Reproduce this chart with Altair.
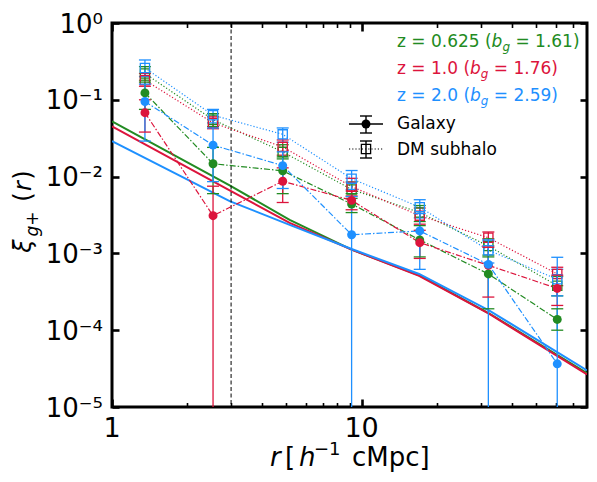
import altair as alt
import pandas as pd

# separation bins, h^-1 cMpc
r_bins = [1.355, 2.54, 4.83, 9.12, 17.1, 32.2, 60.8]
r_cut = [3.0]

z_names = ["0.625", "1.0", "2.0"]
z_bias = ["1.61", "1.76", "2.59"]
z_colors = ["#228B22", "#DC143C", "#1E90FF"]

# galaxy xi_g+ (filled circles); a lower end of 1e-7 means the bar runs off the plot
gal_v_green = [0.123, 0.0147, 0.0119, 4.4e-3, 1.5e-3, 5.4e-4, 1.38e-4]
gal_lo_green = [0.075, 6.0e-3, 6.0e-3, 3.4e-3, 9.0e-4, 1.9e-4, 1.0e-4]
gal_hi_green = [0.17, 0.024, 0.018, 6.0e-3, 2.3e-3, 9.0e-4, 1.9e-4]

gal_v_red = [0.068, 3.1e-3, 8.7e-3, 4.9e-3, 1.38e-3, 7.0e-4, 3.5e-4]
gal_lo_red = [0.038, 1e-7, 4.6e-3, 3.7e-3, 8.6e-4, 2.7e-4, 2.1e-4]
gal_hi_red = [0.10, 7.5e-3, 0.013, 6.5e-3, 2.0e-3, 1.2e-3, 5.2e-4]

gal_v_blue = [0.095, 0.0257, 0.0139, 1.75e-3, 1.96e-3, 7.2e-4, 3.65e-5]
gal_lo_blue = [0.029, 8.6e-3, 7.0e-3, 1e-7, 6.2e-4, 1e-7, 1e-7]
gal_hi_blue = [0.16, 0.043, 0.021, 5.5e-3, 3.3e-3, 1.5e-3, 8.9e-4]

# DM subhalo xi_g+ (open squares)
dm_v_green = [0.22, 0.055, 0.021, 6.8e-3, 3.4e-3, 1.25e-3, 3.8e-4]
dm_lo_green = [0.18, 0.045, 0.017, 5.2e-3, 2.6e-3, 9.5e-4, 2.8e-4]
dm_hi_green = [0.27, 0.066, 0.026, 8.5e-3, 4.2e-3, 1.55e-3, 5.0e-4]

dm_v_red = [0.18, 0.050, 0.0244, 7.4e-3, 3.1e-3, 1.6e-3, 5.4e-4]
dm_lo_red = [0.15, 0.042, 0.019, 5.6e-3, 2.4e-3, 1.25e-3, 3.8e-4]
dm_hi_red = [0.22, 0.060, 0.030, 9.5e-3, 3.9e-3, 1.9e-3, 6.6e-4]

dm_v_blue = [0.26, 0.063, 0.0355, 9.4e-3, 4.0e-3, 1.1e-3, 4.6e-4]
dm_lo_blue = [0.20, 0.050, 0.028, 6.8e-3, 2.9e-3, 7.5e-4, 2.8e-4]
dm_hi_blue = [0.33, 0.075, 0.043, 0.012, 5.0e-3, 1.45e-3, 6.2e-4]

# model curves (solid lines)
model_r = [1.0, 2.96, 5.15, 9.12, 17.0, 32.5, 80.0]
model_green = [0.0522, 7.7e-3, 2.73e-3, 1.12e-3, 5.2e-4, 1.65e-4, 2.75e-5]
model_red = [0.045, 6.6e-3, 2.5e-3, 1.12e-3, 5.1e-4, 1.63e-4, 2.65e-5]
model_blue = [0.029, 4.8e-3, 2.35e-3, 1.14e-3, 5.4e-4, 1.8e-4, 3.0e-5]

x_label_vals = [1, 10]
x_label_text = ["1", "10"]
x_tick_vals = [1, 2, 3, 4, 5, 6, 7, 8, 9, 10, 20, 30, 40, 50, 60, 70]
y_tick_vals = [1e-5, 1e-4, 1e-3, 1e-2, 1e-1, 1]
y_tick_text = ["10⁻⁵", "10⁻⁴", "10⁻³", "10⁻²", "10⁻¹", "10⁰"]

W, H = 475, 384
FONT = "DejaVu Sans"


def text_width(s, size):
    w = {" ": 0.318, "=": 0.838, ".": 0.318, "(": 0.390, ")": 0.390,
         "z": 0.521, "b": 0.635, "g": 0.635}
    return size * sum(w.get(c, 0.636) for c in s)


def _table(kind, z, v, lo, hi):
    return pd.DataFrame({"r": r_bins, "v": v, "lo": lo, "hi": hi, "z": z, "kind": kind})


gal_df = pd.concat([
    _table("Galaxy", z_names[0], gal_v_green, gal_lo_green, gal_hi_green),
    _table("Galaxy", z_names[1], gal_v_red, gal_lo_red, gal_hi_red),
    _table("Galaxy", z_names[2], gal_v_blue, gal_lo_blue, gal_hi_blue),
])
dm_df = pd.concat([
    _table("DM", z_names[0], dm_v_green, dm_lo_green, dm_hi_green),
    _table("DM", z_names[1], dm_v_red, dm_lo_red, dm_hi_red),
    _table("DM", z_names[2], dm_v_blue, dm_lo_blue, dm_hi_blue),
])
model_df = pd.concat([
    pd.DataFrame({"r": model_r, "v": model_green, "z": z_names[0]}),
    pd.DataFrame({"r": model_r, "v": model_red, "z": z_names[1]}),
    pd.DataFrame({"r": model_r, "v": model_blue, "z": z_names[2]}),
])

xs = alt.Scale(type="log", domain=[1, 80], nice=False)
ys = alt.Scale(type="log", domain=[1e-5, 1], nice=False)
cs = alt.Scale(domain=z_names, range=z_colors)
color = alt.Color("z:N", scale=cs, legend=None)

major = "datum.value == 1 || datum.value == 10"
tick_size = {"condition": {"test": major, "value": 8}, "value": 4.5}
tick_width = {"condition": {"test": major, "value": 2.6}, "value": 1.6}


# inward ticks: an axis moved across the plot by a negative offset points its ticks inside
def x_ticks(orient):
    return alt.Axis(orient=orient, offset=-H, values=x_tick_vals, labels=False, domain=False, grid=False,
                    title=None, tickColor="black", tickSize=tick_size, tickWidth=tick_width)


def y_ticks(orient):
    return alt.Axis(orient=orient, offset=-W, values=y_tick_vals, labels=False, domain=False, grid=False,
                    title=None, tickColor="black", tickSize=7, tickWidth=2.6)


X = alt.X("r:Q", scale=xs, axis=None)
Y = alt.Y("v:Q", scale=ys, axis=None)

model_lines = alt.Chart(model_df).mark_line(strokeWidth=2, clip=True).encode(x=X, y=Y, color=color)

cut_line = alt.Chart(pd.DataFrame({"r": r_cut})).mark_rule(
    color="black", strokeWidth=1, strokeDash=[4, 2.5]).encode(x=X)

x_labels = alt.Chart(pd.DataFrame({"r": x_label_vals, "t": x_label_text})).mark_text(
    font=FONT, fontSize=27, color="black", align="center", baseline="alphabetic"
).encode(x=X, y=alt.value(H + 30), text="t:N")

y_labels = alt.Chart(pd.DataFrame({"v": y_tick_vals, "t": y_tick_text})).mark_text(
    font=FONT, fontSize=26, color="black", align="right", baseline="alphabetic", dy=9.5
).encode(y=Y, x=alt.value(-9), text="t:N")


def series_layers(df, dash, point):
    lines = alt.Chart(df).mark_line(strokeWidth=1.2, strokeDash=dash, clip=True).encode(x=X, y=Y, color=color)
    bars = alt.Chart(df).mark_rule(strokeWidth=1.3, clip=True).encode(
        x=X, y=alt.Y("lo:Q", scale=ys, axis=None), y2="hi:Q", color=color)
    caps = [alt.Chart(df).mark_tick(orient="horizontal", size=12, thickness=1.3, opacity=1, clip=True).encode(
        x=X, y=alt.Y(f"{c}:Q", scale=ys, axis=None), color=color) for c in ("lo", "hi")]
    return [lines, bars] + caps + [point.encode(x=X, y=Y, color=color)]


dm_layers = series_layers(dm_df, [1.2, 2], alt.Chart(dm_df).mark_point(
    shape="square", filled=False, size=85, strokeWidth=1.3, opacity=1))
gal_layers = series_layers(gal_df, [6, 2, 1.5, 2], alt.Chart(gal_df).mark_circle(size=80, opacity=1))

one = pd.DataFrame({"a": [0]})


def txt(s, x, y, size=17, col="black", style="normal", angle=0, align="left"):
    return alt.Chart(one).mark_text(text=s, font=FONT, fontSize=size, color=col, fontStyle=style,
                                    angle=angle, align=align, baseline="alphabetic").encode(
        x=alt.value(x), y=alt.value(y))


def rule(x, y, x2=None, y2=None, dash=None, width=1.4):
    kw = {"color": "black", "strokeWidth": width}
    if dash:
        kw["strokeDash"] = dash
    enc = {"x": alt.value(x), "y": alt.value(y)}
    if x2 is not None:
        enc["x2"] = alt.value(x2)
    if y2 is not None:
        enc["y2"] = alt.value(y2)
    return alt.Chart(one).mark_rule(**kw).encode(**enc)


# colour key for the three redshifts
key = []
lx, ly0, ldy = 285, 24, 27
for i, (zn, b, col) in enumerate(zip(z_names, z_bias, z_colors)):
    y0 = ly0 + i * ldy
    left = f"z = {zn} ("
    w1 = text_width(left, 17)
    wb = text_width("b", 17)
    wg = text_width("g", 12)
    wsp = text_width(" ", 17)
    key += [txt(left, lx, y0, col=col),
            txt("b", lx + w1, y0, col=col, style="italic"),
            txt("g", lx + w1 + wb, y0 + 4, size=12, col=col, style="italic"),
            txt(f"= {b})", lx + w1 + wb + wg + wsp, y0, col=col)]

# marker key
mx = 254
key += [
    rule(237, 101, x2=271), rule(mx, 93, y2=110), rule(mx - 6, 93, x2=mx + 6), rule(mx - 6, 110, x2=mx + 6),
    alt.Chart(one).mark_circle(size=80, color="black", opacity=1).encode(x=alt.value(mx), y=alt.value(101)),
    txt("Galaxy", 285, 106),
    rule(237, 126, x2=271, dash=[1.2, 2], width=1.2), rule(mx, 118, y2=135),
    rule(mx - 6, 118, x2=mx + 6), rule(mx - 6, 135, x2=mx + 6),
    alt.Chart(one).mark_point(shape="square", filled=False, size=85, strokeWidth=1.3, color="black",
                              opacity=1).encode(x=alt.value(mx), y=alt.value(126)),
    txt("DM subhalo", 285, 132),
]

# axis titles
titles = [
    txt("r", 158, 443, size=26, style="italic"),
    txt("[", 173, 443, size=26),
    txt("h", 187, 443, size=26, style="italic"),
    txt("−1", 202, 432, size=18),
    txt("cMpc]", 240, 443, size=26),
    txt("ξ", -81, 223, size=24, style="italic", angle=270, align="center"),
    txt("g+", -74, 201, size=17, style="italic", angle=270, align="center"),
    txt("(", -81, 174, size=24, angle=270, align="center"),
    txt("r", -81, 163, size=24, style="italic", angle=270, align="center"),
    txt(")", -81, 152, size=24, angle=270, align="center"),
]

data_layer = alt.layer(model_lines, cut_line, x_labels, y_labels, *dm_layers, *gal_layers, *key, *titles)

ticks_a = alt.Chart(model_df).mark_point(opacity=0).encode(
    x=alt.X("r:Q", scale=xs, axis=x_ticks("top")), y=alt.Y("v:Q", scale=ys, axis=y_ticks("right")))
ticks_b = alt.Chart(model_df).mark_point(opacity=0).encode(
    x=alt.X("r:Q", scale=xs, axis=x_ticks("bottom")), y=alt.Y("v:Q", scale=ys, axis=y_ticks("left")))

chart = alt.layer(data_layer, ticks_a, ticks_b).resolve_scale(
    x="independent", y="independent"
).properties(
    width=W, height=H,
    autosize=alt.AutoSizeParams(type="none"),
    padding={"left": 104, "top": 15, "right": 2, "bottom": 67},
    background="white",
).configure(font=FONT).configure_view(stroke="black", strokeWidth=3)

chart.save("out.html", embed_options={"renderer": "svg", "actions": False})
